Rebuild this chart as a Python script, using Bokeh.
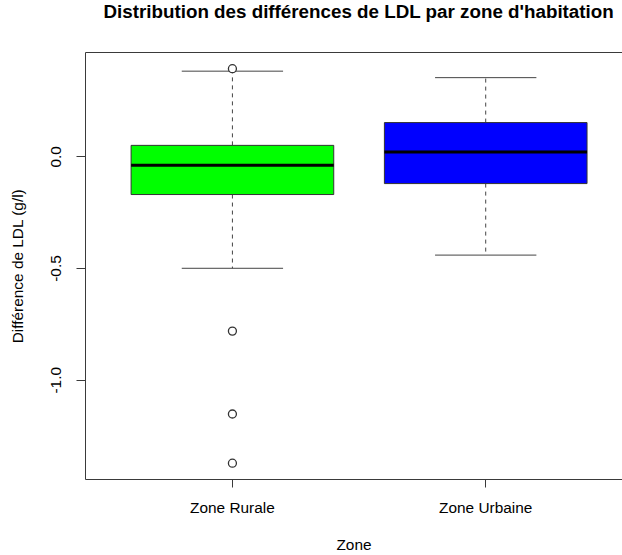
from bokeh.plotting import figure
from bokeh.models import Range1d, FixedTicker, PrintfTickFormatter, LinearAxis
from bokeh.embed import file_html
from bokeh.resources import INLINE

# ---- data ----
categories = ["Zone Rurale", "Zone Urbaine"]
box_colors = ["#00FF00", "#0000FF"]
q1 = [-0.169, -0.120]
medians = [-0.038, 0.021]
q3 = [0.051, 0.153]
whisker_low = [-0.499, -0.440]
whisker_high = [0.383, 0.354]
outlier_zone = ["Zone Rurale", "Zone Rurale", "Zone Rurale", "Zone Rurale"]
outlier_values = [0.394, -0.780, -1.151, -1.371]
y_ticks = [-1.0, -0.5, 0.0]

title_text = "Distribution des différences de LDL par zone d'habitation"
x_label = "Zone"
y_label = "Différence de LDL (g/l)"

FONT = "Liberation Sans"
AXIS_COLOR = "#3a3a3a"

pos = [i + 1 for i in range(len(categories))]
half = 0.4
cap = 0.2

p = figure(width=622, height=555, output_backend="svg", toolbar_location=None,
           x_range=Range1d(0.42, 2.540), y_range=Range1d(-1.444, 0.4665),
           min_border_left=85, min_border_right=0, min_border_top=52,
           min_border_bottom=75)
p.outline_line_color = None
p.grid.visible = False
p.background_fill_color = "white"
p.border_fill_color = "white"

# title
p.title.text = title_text
p.title.align = "left"
p.title.offset = 18
p.title.vertical_align = "top"
p.title.text_font = FONT
p.title.text_font_size = "18.8px"
p.title.text_font_style = "bold"
p.title.text_color = "black"
p.title.standoff = 0

# whiskers
p.segment(x0=pos, y0=q3, x1=pos, y1=whisker_high, line_color="#444444",
          line_width=1, line_dash="4 4")
p.segment(x0=pos, y0=q1, x1=pos, y1=whisker_low, line_color="#444444",
          line_width=1, line_dash="4 4")
# caps
p.segment(x0=[x - cap for x in pos], y0=whisker_high, x1=[x + cap for x in pos],
          y1=whisker_high, line_color="#444444", line_width=1)
p.segment(x0=[x - cap for x in pos], y0=whisker_low, x1=[x + cap for x in pos],
          y1=whisker_low, line_color="#444444", line_width=1)
# boxes
p.vbar(x=pos, top=q3, bottom=q1, width=2 * half, fill_color=box_colors,
       line_color="#333333", line_width=1)
# medians
p.segment(x0=[x - half for x in pos], y0=medians, x1=[x + half for x in pos],
          y1=medians, line_color="black", line_width=3)
# outliers
ox = [pos[categories.index(z)] for z in outlier_zone]
p.scatter(x=ox, y=outlier_values, marker="circle", size=8, fill_color="white",
          line_color="#333333", line_width=1.3)

# x axis
xa = p.xaxis[0]
xa.ticker = FixedTicker(ticks=pos)
xa.major_label_overrides = {x: c for x, c in zip(pos, categories)}
xa.axis_label = x_label
xa.minor_tick_line_color = None
xa.major_tick_in = 0
xa.major_tick_out = 8
xa.axis_line_color = AXIS_COLOR
xa.major_tick_line_color = AXIS_COLOR
xa.major_label_text_font = FONT
xa.major_label_text_font_size = "15.4px"
xa.major_label_text_color = "black"
xa.major_label_standoff = 11
xa.axis_label_text_font = FONT
xa.axis_label_text_font_size = "15.4px"
xa.axis_label_text_font_style = "normal"
xa.axis_label_text_color = "black"
xa.axis_label_standoff = 17

# y axis
ya = p.yaxis[0]
ya.ticker = FixedTicker(ticks=y_ticks)
ya.formatter = PrintfTickFormatter(format="%.1f")
ya.major_label_orientation = "vertical"
ya.axis_label = y_label
ya.minor_tick_line_color = None
ya.major_tick_in = 0
ya.major_tick_out = 9
ya.axis_line_color = AXIS_COLOR
ya.major_tick_line_color = AXIS_COLOR
ya.major_label_text_font = FONT
ya.major_label_text_font_size = "15.4px"
ya.major_label_text_color = "black"
ya.major_label_standoff = 15
ya.axis_label_text_font = FONT
ya.axis_label_text_font_size = "15.4px"
ya.axis_label_text_font_style = "normal"
ya.axis_label_text_color = "black"
ya.axis_label_standoff = 23

# top border line (plot box without right side); a blank axis label with a
# standoff spaces the title away from the frame
top = LinearAxis(ticker=FixedTicker(ticks=[]), axis_line_color=AXIS_COLOR,
                 major_tick_line_color=None, minor_tick_line_color=None,
                 major_tick_in=0, major_tick_out=0,
                 major_label_text_font_size="0px",
                 axis_label=" ", axis_label_text_font_size="2px",
                 axis_label_standoff=24)
p.add_layout(top, "above")

open("out.html", "w").write(file_html(p, INLINE))
